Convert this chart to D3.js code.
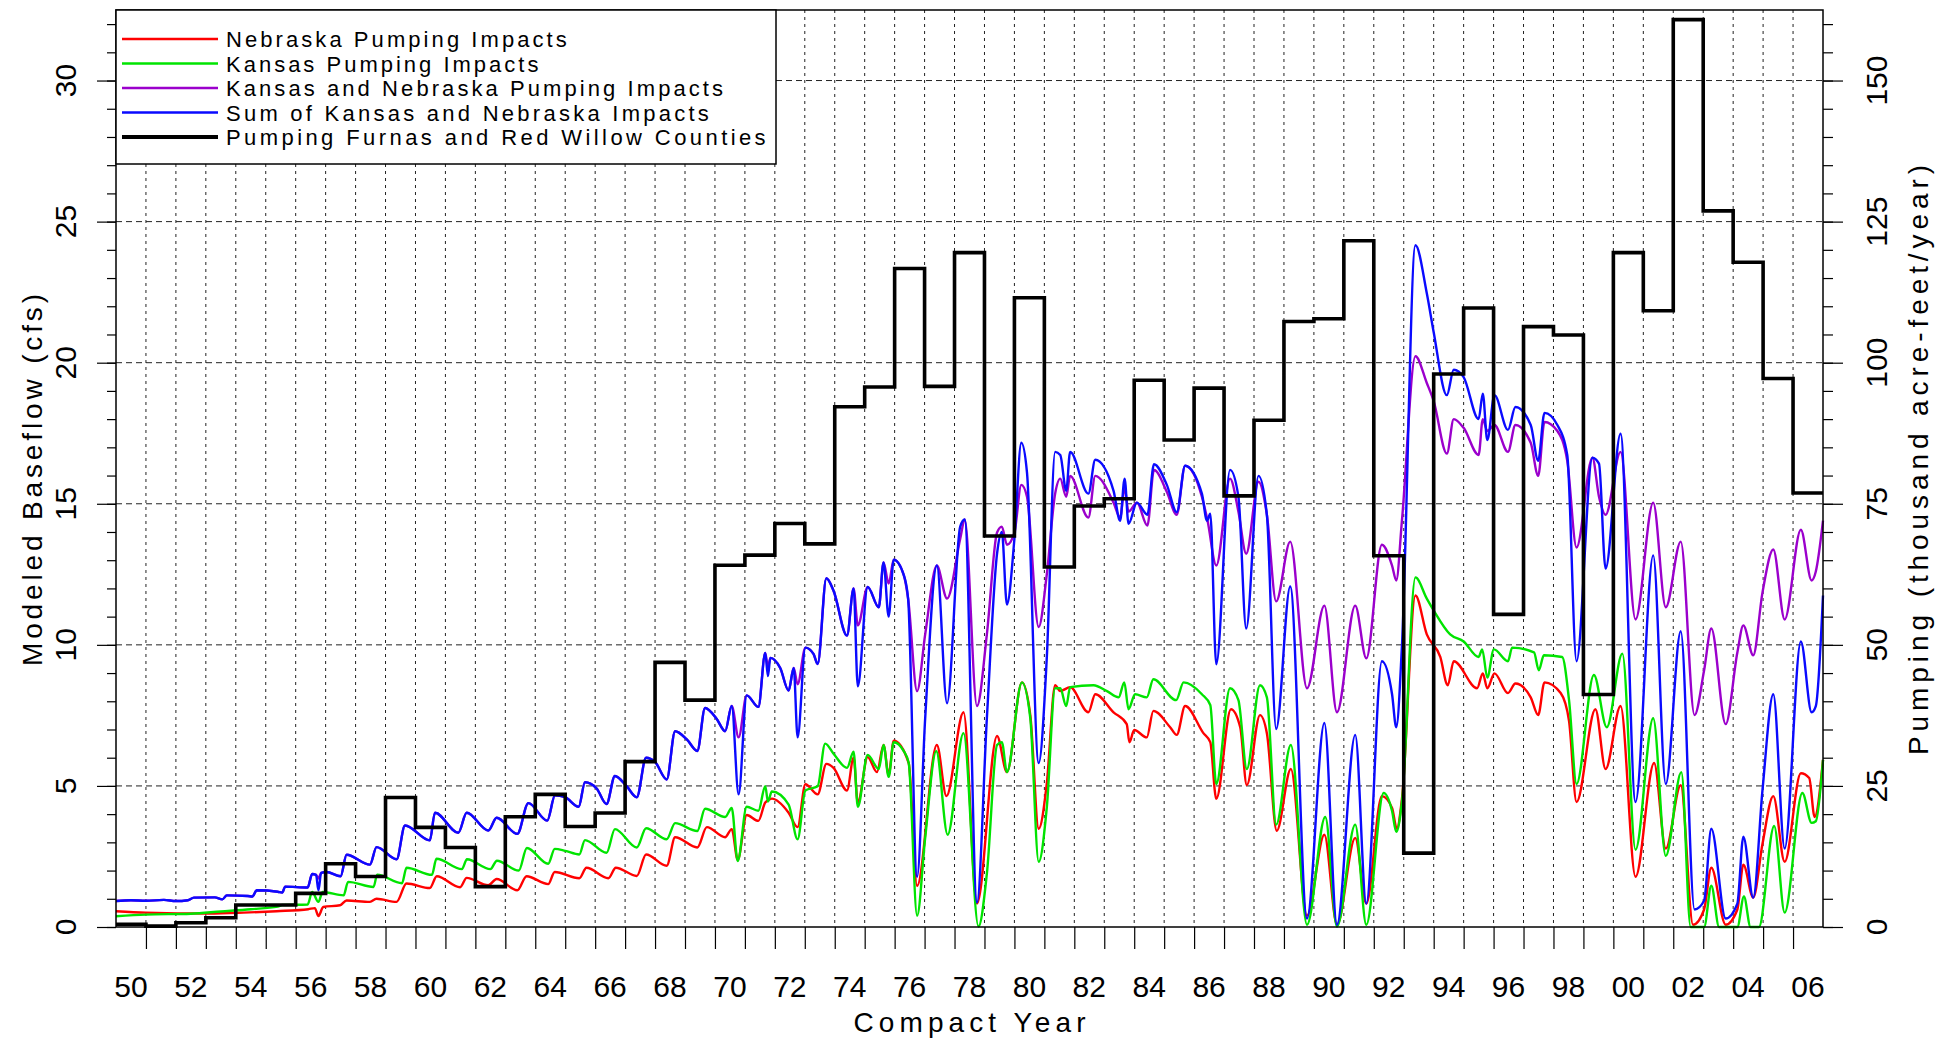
<!DOCTYPE html>
<html>
<head>
<meta charset="utf-8">
<script src="https://d3js.org/d3.v7.min.js"></script>
<style>
  body { margin: 0; background: #fff; }
  svg { display: block; font-family: "Liberation Sans", Arial, sans-serif; }
</style>
</head>
<body>
<div id="chart"></div>
<script>
// pumping Furnas + Red Willow, thousand acre-feet/year, one value per year from 1950
var pumpStart = 1950;
var pumpingKaf = [0.5, 0.15, 0.75, 1.65, 3.9, 3.9, 5.95, 11.2, 8.95, 22.95,
  17.65, 14.1, 7.15, 19.55, 23.5, 17.8, 20.2, 29.3, 46.9, 40.2,
  64.1, 65.9, 71.5, 67.9, 92.2, 95.7, 116.7, 95.8, 119.5, 69.3,
  111.5, 63.8, 74.6, 75.9, 96.9, 86.3, 95.5, 76.4, 89.8, 107.3,
  107.8, 121.6, 65.8, 13.1, 98.0, 109.7, 55.4, 106.4, 104.9, 41.2,
  119.5, 109.2, 160.8, 126.9, 117.8, 97.2, 76.9];

// modeled baseflow impacts (cfs), [year, value]
var nebraska = [[1950.0,0.56],[1951.0,0.51],[1953.1,0.48],[1954.25,0.51],[1955.36,0.56],[1956.42,0.63],[1956.64,0.67],[1956.76,0.39],[1956.92,0.71],
  [1957.48,0.77],[1957.7,0.94],[1958.48,0.89],[1958.7,1.0],[1959.37,0.89],[1959.7,1.54],[1960.48,1.38],[1960.71,1.8],[1961.49,1.41],[1961.71,1.74],
  [1962.43,1.48],[1962.71,1.7],[1963.4,1.3],[1963.71,1.8],[1964.43,1.52],[1964.65,1.95],[1965.47,1.73],[1965.71,2.1],[1966.44,1.73],[1966.69,2.1],
  [1967.39,1.81],[1967.7,2.57],[1968.39,2.17],[1968.67,3.18],[1969.41,2.82],[1969.73,3.54],[1970.34,3.18],[1970.56,3.47],[1970.76,2.38],[1971.06,3.97],
  [1971.45,3.76],[1971.68,4.41],[1971.9,4.55],[1972.46,4.05],[1972.76,3.54],[1973.02,5.06],[1973.43,4.7],[1973.72,5.78],[1973.96,5.64],[1974.41,4.84],
  [1974.63,6.0],[1974.77,4.41],[1975.1,6.02],[1975.41,5.49],[1975.63,6.45],[1975.8,5.39],[1975.97,6.6],[1976.47,5.81],[1976.75,1.46],[1977.41,6.45],
  [1977.73,4.64],[1978.3,7.61],[1978.75,0.83],[1979.42,6.77],[1979.75,5.49],[1980.25,8.67],[1980.53,7.51],[1980.81,3.48],[1981.08,5.07],[1981.36,8.57],
  [1981.53,8.36],[1981.86,8.5],[1982.47,7.61],[1982.7,8.25],[1983.31,7.61],[1983.75,7.19],[1983.84,6.55],[1984.0,6.98],[1984.42,6.72],[1984.64,7.66],
  [1985.2,7.08],[1985.42,6.81],[1985.7,7.83],[1986.31,6.87],[1986.54,6.55],[1986.74,4.54],[1987.23,7.72],[1987.54,7.08],[1987.76,5.03],[1988.2,7.51],
  [1988.43,6.87],[1988.76,3.41],[1989.23,5.6],[1989.77,0.4],[1990.35,3.27],[1990.77,0.08],[1991.38,3.16],[1991.75,0.83],[1992.27,4.64],[1992.61,4.22],
  [1992.77,3.48],[1992.94,4.54],[1993.39,11.75],[1993.77,10.37],[1994.22,9.57],[1994.47,8.57],[1994.67,9.42],[1995.45,8.46],[1995.64,8.99],[1995.79,8.46],
  [1996.03,8.99],[1996.48,8.29],[1996.73,8.63],[1997.24,8.14],[1997.49,7.51],[1997.7,8.67],[1998.24,8.29],[1998.52,7.3],[1998.77,4.43],[1999.4,7.72],
  [1999.74,5.6],[2000.24,7.83],[2000.74,1.78],[2001.36,5.81],[2001.75,2.78],[2002.25,5.03],[2002.66,0.08],[2003.03,0.62],[2003.27,2.1],[2003.75,0.08],
  [2004.14,0.62],[2004.34,2.21],[2004.67,1.04],[2004.98,2.95],[2005.34,4.64],[2005.72,2.31],[2006.26,5.45],[2006.54,5.28],[2006.72,3.9],[2007.0,5.92]];

var kansas = [[1950.0,0.38],[1951.0,0.44],[1952.5,0.47],[1953.5,0.55],[1954.5,0.63],[1955.4,0.72],[1955.55,0.78],[1956.4,0.8],[1956.55,1.24],[1956.76,0.89],
  [1956.9,1.24],[1957.6,1.12],[1957.75,1.6],[1958.6,1.42],[1958.72,1.85],[1959.55,1.55],[1959.7,2.1],[1960.55,1.85],[1960.7,2.42],[1961.55,2.05],
  [1961.72,2.4],[1962.5,2.05],[1962.72,2.35],[1963.45,2.0],[1963.72,2.8],[1964.43,2.24],[1964.65,2.77],[1965.0,2.7],[1965.47,2.57],[1965.66,3.08],
  [1966.38,2.63],[1966.66,3.47],[1967.39,2.82],[1967.7,3.5],[1968.39,3.11],[1968.67,3.68],[1969.41,3.4],[1969.67,4.19],[1970.34,3.9],[1970.56,4.22],
  [1970.76,2.34],[1971.06,4.26],[1971.45,4.12],[1971.68,4.99],[1971.77,4.45],[1971.9,4.8],[1972.46,4.34],[1972.76,3.11],[1973.02,4.84],[1973.43,4.99],
  [1973.68,6.5],[1973.96,6.14],[1974.41,5.64],[1974.63,6.21],[1974.77,4.26],[1975.1,6.1],[1975.47,5.6],[1975.63,6.45],[1975.8,5.32],[1975.97,6.55],
  [1976.3,6.24],[1976.47,5.81],[1976.75,0.4],[1977.02,3.16],[1977.39,6.24],[1977.77,3.27],[1978.3,6.87],[1978.8,0.02],[1979.08,1.89],[1979.42,6.45],
  [1979.58,6.55],[1979.75,5.49],[1980.25,8.67],[1980.53,7.4],[1980.81,2.31],[1981.08,4.22],[1981.36,8.46],[1981.53,8.46],[1981.73,7.83],[1981.86,8.5],
  [1982.64,8.57],[1983.09,8.36],[1983.48,8.14],[1983.67,8.67],[1983.81,7.72],[1984.03,8.25],[1984.42,8.14],[1984.64,8.78],[1985.4,8.04],[1985.65,8.67],
  [1986.26,8.25],[1986.54,7.87],[1986.74,5.07],[1987.2,8.46],[1987.48,8.04],[1987.76,5.6],[1988.2,8.57],[1988.43,8.14],[1988.74,3.63],[1989.23,6.45],
  [1989.77,0.08],[1990.38,3.9],[1990.77,0.02],[1991.38,3.63],[1991.75,0.08],[1992.33,4.75],[1992.61,4.11],[1992.75,3.37],[1992.94,4.43],[1993.39,12.39],
  [1993.77,11.64],[1994.0,11.22],[1994.55,10.37],[1995.0,10.12],[1995.5,9.57],[1995.62,9.84],[1995.79,8.84],[1996.01,9.84],[1996.48,9.42],[1996.62,9.9],
  [1997.35,9.73],[1997.51,9.1],[1997.68,9.63],[1998.29,9.57],[1998.52,8.04],[1998.77,5.07],[1999.35,8.93],[1999.78,7.08],[2000.3,9.69],[2000.74,2.74],
  [2001.33,7.4],[2001.75,2.52],[2002.27,5.49],[2002.58,0.0],[2003.03,0.0],[2003.27,1.46],[2003.53,0.0],[2004.14,0.0],[2004.36,1.08],[2004.58,0.0],
  [2004.86,0.0],[2005.37,3.58],[2005.72,0.51],[2006.31,4.75],[2006.62,3.69],[2006.76,3.75],[2007.0,5.92]];

var kansasNebraska = [[1950.0,0.92],[1950.5,0.95],[1951.0,0.93],[1951.6,0.96],[1952.0,0.92],[1952.4,0.95],[1952.6,1.04],[1953.3,1.05],[1953.55,0.98],[1953.7,1.12],
  [1954.4,1.1],[1954.55,1.08],[1954.7,1.3],[1955.4,1.25],[1955.55,1.22],[1955.65,1.43],[1956.4,1.4],[1956.55,1.88],[1956.68,1.85],[1956.76,1.72],
  [1956.85,1.92],[1957.03,1.95],[1957.5,1.8],[1957.7,2.56],[1958.48,2.21],[1958.7,2.83],[1959.37,2.4],[1959.65,3.6],[1960.48,3.07],[1960.65,4.05],
  [1961.43,3.34],[1961.71,4.05],[1962.43,3.42],[1962.71,3.87],[1963.4,3.3],[1963.77,4.39],[1964.4,3.77],[1964.66,4.67],[1965.0,4.6],[1965.45,4.26],
  [1965.66,5.13],[1966.05,4.91],[1966.38,4.36],[1966.66,5.35],[1967.05,4.99],[1967.39,4.6],[1967.7,6.0],[1968.0,5.85],[1968.39,5.23],[1968.67,6.94],
  [1969.06,6.65],[1969.41,6.24],[1969.67,7.76],[1970.06,7.37],[1970.34,6.94],[1970.56,7.83],[1970.79,6.72],[1971.06,8.21],[1971.45,7.8],[1971.68,9.71],
  [1971.77,9.2],[1971.85,9.54],[1972.18,9.18],[1972.46,8.38],[1972.63,9.18],[1972.76,8.6],[1973.02,9.9],[1973.29,9.68],[1973.43,9.32],[1973.72,12.36],
  [1973.96,11.92],[1974.41,10.33],[1974.63,12.0],[1974.77,10.69],[1975.1,12.05],[1975.47,11.33],[1975.63,12.92],[1975.8,12.17],[1975.97,13.02],[1976.3,12.49],
  [1976.45,11.64],[1976.75,8.36],[1977.02,10.37],[1977.41,12.81],[1977.75,11.64],[1978.19,13.76],[1978.34,14.44],[1978.75,7.83],[1979.08,10.37],[1979.42,13.98],
  [1979.58,14.19],[1979.75,13.55],[1980.0,13.98],[1980.23,15.67],[1980.42,15.25],[1980.81,10.63],[1981.08,12.49],[1981.36,15.36],[1981.53,15.89],[1981.73,15.25],
  [1981.86,15.99],[1982.47,14.51],[1982.7,15.99],[1983.31,15.04],[1983.53,14.51],[1983.68,15.57],[1983.81,14.72],[1984.09,15.04],[1984.44,14.23],[1984.66,16.2],
  [1985.09,15.42],[1985.42,14.61],[1985.7,16.35],[1986.26,15.25],[1986.45,14.4],[1986.74,12.81],[1987.2,15.89],[1987.48,14.72],[1987.74,13.23],[1988.15,15.78],
  [1988.43,14.61],[1988.74,11.54],[1989.21,13.66],[1989.77,8.46],[1990.35,11.39],[1990.77,7.61],[1991.38,11.39],[1991.75,9.52],[1992.27,13.55],[1992.61,12.81],
  [1992.75,12.28],[1992.94,14.4],[1993.39,20.23],[1993.77,19.28],[1994.0,18.64],[1994.44,16.78],[1994.67,18.0],[1995.0,17.69],[1995.5,16.73],[1995.64,18.0],
  [1995.79,17.58],[1996.03,17.79],[1996.48,16.84],[1996.73,17.79],[1997.24,17.16],[1997.49,15.99],[1997.7,17.9],[1998.13,17.58],[1998.46,16.52],[1998.77,13.45],
  [1999.3,16.63],[1999.52,15.25],[1999.74,14.61],[2000.24,16.84],[2000.74,10.9],[2001.33,15.04],[2001.75,11.33],[2002.25,13.66],[2002.71,7.51],[2003.03,9.1],
  [2003.27,10.58],[2003.75,7.19],[2004.14,9.73],[2004.34,10.69],[2004.67,9.63],[2004.98,11.86],[2005.34,13.38],[2005.72,10.9],[2006.26,14.08],[2006.62,12.28],
  [2006.76,12.6],[2007.0,14.4]];

var sumKN = [[1950.0,0.92],[1950.5,0.95],[1951.0,0.93],[1951.6,0.96],[1952.0,0.92],[1952.4,0.95],[1952.6,1.04],[1953.3,1.05],[1953.55,0.98],[1953.7,1.12],
  [1954.4,1.1],[1954.55,1.08],[1954.7,1.3],[1955.4,1.25],[1955.55,1.22],[1955.65,1.43],[1956.4,1.4],[1956.55,1.88],[1956.68,1.85],[1956.76,1.3],
  [1956.85,1.92],[1957.03,1.95],[1957.5,1.8],[1957.7,2.56],[1958.48,2.21],[1958.7,2.83],[1959.37,2.4],[1959.65,3.6],[1960.48,3.07],[1960.65,4.05],
  [1961.43,3.34],[1961.71,4.05],[1962.43,3.42],[1962.71,3.87],[1963.4,3.3],[1963.77,4.39],[1964.4,3.77],[1964.66,4.67],[1965.0,4.6],[1965.45,4.26],
  [1965.66,5.13],[1966.05,4.91],[1966.38,4.36],[1966.66,5.35],[1967.05,4.99],[1967.39,4.6],[1967.7,6.0],[1968.0,5.85],[1968.39,5.23],[1968.67,6.94],
  [1969.06,6.65],[1969.41,6.24],[1969.67,7.76],[1970.06,7.37],[1970.34,6.94],[1970.56,7.83],[1970.79,4.7],[1971.06,8.21],[1971.45,7.8],[1971.68,9.71],
  [1971.77,8.89],[1971.85,9.54],[1972.18,9.18],[1972.46,8.38],[1972.63,9.18],[1972.76,6.72],[1973.02,9.9],[1973.29,9.68],[1973.43,9.32],[1973.72,12.36],
  [1973.96,11.92],[1974.41,10.33],[1974.63,12.0],[1974.77,8.53],[1975.1,12.05],[1975.47,11.33],[1975.63,12.92],[1975.8,11.0],[1975.97,13.02],[1976.3,12.49],
  [1976.45,11.64],[1976.75,1.78],[1977.02,7.4],[1977.41,12.81],[1977.75,7.93],[1978.19,14.19],[1978.34,14.44],[1978.75,0.87],[1979.08,7.4],[1979.42,13.23],
  [1979.58,14.0],[1979.75,11.43],[1980.0,13.76],[1980.23,17.16],[1980.42,16.1],[1980.81,5.81],[1981.08,9.52],[1981.36,16.84],[1981.53,16.73],[1981.73,15.46],
  [1981.86,16.84],[1982.47,15.36],[1982.7,16.56],[1983.31,15.46],[1983.53,14.4],[1983.68,15.89],[1983.81,14.29],[1984.09,15.04],[1984.44,14.61],[1984.66,16.4],
  [1985.09,15.67],[1985.42,14.7],[1985.7,16.35],[1986.26,15.36],[1986.43,14.4],[1986.54,14.65],[1986.74,9.31],[1987.2,16.2],[1987.48,15.25],[1987.74,10.58],
  [1988.15,15.99],[1988.43,14.61],[1988.74,7.02],[1989.21,12.07],[1989.77,0.3],[1990.35,7.23],[1990.77,0.08],[1991.38,6.81],[1991.75,0.83],[1992.27,9.42],
  [1992.61,8.25],[1992.75,7.08],[1992.94,9.95],[1993.39,24.16],[1993.77,22.46],[1994.0,21.08],[1994.44,18.85],[1994.67,19.75],[1995.0,19.49],[1995.5,18.0],
  [1995.64,18.9],[1995.79,17.26],[1996.03,18.85],[1996.48,17.62],[1996.73,18.43],[1997.24,17.79],[1997.49,16.52],[1997.7,18.22],[1998.13,17.79],[1998.46,16.73],
  [1998.77,9.42],[1999.3,16.63],[1999.52,16.42],[1999.74,12.7],[2000.24,17.48],[2000.74,4.43],[2001.33,13.17],[2001.75,5.07],[2002.25,10.48],[2002.71,0.62],
  [2003.03,0.93],[2003.27,3.48],[2003.75,0.3],[2004.14,0.83],[2004.34,3.2],[2004.67,1.04],[2004.98,4.86],[2005.34,8.25],[2005.72,2.78],[2006.26,10.12],
  [2006.62,7.61],[2006.76,7.83],[2007.0,11.75]];

var legendNames = ["Nebraska Pumping Impacts", "Kansas Pumping Impacts", "Kansas and Nebraska Pumping Impacts",
  "Sum of Kansas and Nebraska Impacts", "Pumping Furnas and Red Willow Counties"];
var leftTicks = [0, 5, 10, 15, 20, 25, 30];
var rightTicks = [0, 25, 50, 75, 100, 125, 150];

var width = 1937, height = 1041;
var plotL = 116, plotR = 1823, plotT = 10, plotB = 927;

var svg = d3.select("#chart").append("svg")
  .attr("width", width)
  .attr("height", height);

var x = d3.scaleLinear().domain([1950, 2007]).range([plotL, plotR]);
var y = d3.scaleLinear().domain([0, 32.5]).range([plotB, plotT]);
var yR = d3.scaleLinear().domain([0, 162.5]).range([plotB, plotT]);

var yearBounds = d3.range(1951, 2007);

// grid
svg.append("g").selectAll("line")
  .data(yearBounds).enter().append("line")
  .attr("x1", function(d) { return x(d); })
  .attr("x2", function(d) { return x(d); })
  .attr("y1", plotT).attr("y2", plotB)
  .attr("stroke", "#222").attr("stroke-width", 1)
  .attr("stroke-dasharray", "3,4");

svg.append("g").selectAll("line")
  .data(leftTicks.slice(1)).enter().append("line")
  .attr("x1", plotL).attr("x2", plotR)
  .attr("y1", function(d) { return y(d); })
  .attr("y2", function(d) { return y(d); })
  .attr("stroke", "#222").attr("stroke-width", 1)
  .attr("stroke-dasharray", "6,4");

// axes
var minorL = d3.range(0, 33);
svg.append("g")
  .attr("transform", "translate(" + plotL + ",0)")
  .call(d3.axisLeft(y).tickValues(minorL).tickSize(9).tickFormat("").tickSizeOuter(0))
  .call(function(g) { g.select(".domain").remove(); });
svg.append("g")
  .attr("transform", "translate(" + plotL + ",0)")
  .call(d3.axisLeft(y).tickValues(leftTicks).tickSize(19).tickFormat("").tickSizeOuter(0))
  .call(function(g) { g.select(".domain").remove(); });

var minorR = d3.range(0, 165, 5);
svg.append("g")
  .attr("transform", "translate(" + plotR + ",0)")
  .call(d3.axisRight(yR).tickValues(minorR).tickSize(10).tickFormat("").tickSizeOuter(0))
  .call(function(g) { g.select(".domain").remove(); });
svg.append("g")
  .attr("transform", "translate(" + plotR + ",0)")
  .call(d3.axisRight(yR).tickValues(rightTicks).tickSize(20).tickFormat("").tickSizeOuter(0))
  .call(function(g) { g.select(".domain").remove(); });

svg.append("g")
  .attr("transform", "translate(0," + plotB + ")")
  .call(d3.axisBottom(x).tickValues(yearBounds).tickSize(22).tickFormat("").tickSizeOuter(0))
  .call(function(g) { g.select(".domain").remove(); });

svg.selectAll(".tick line").attr("stroke", "#000").attr("stroke-width", 1.2);

// tick labels
svg.append("g").selectAll("text")
  .data(leftTicks).enter().append("text")
  .attr("transform", function(d) { return "translate(76," + y(d) + ") rotate(-90)"; })
  .attr("text-anchor", "middle")
  .style("font-size", "30px")
  .text(function(d) { return d; });

svg.append("g").selectAll("text")
  .data(rightTicks).enter().append("text")
  .attr("transform", function(d) { return "translate(1887," + yR(d) + ") rotate(-90)"; })
  .attr("text-anchor", "middle")
  .style("font-size", "30px")
  .text(function(d) { return d; });

var labelYears = d3.range(1950, 2007, 2);
svg.append("g").selectAll("text")
  .data(labelYears).enter().append("text")
  .attr("x", function(d) { return x(d + 0.5); })
  .attr("y", 997)
  .attr("text-anchor", "middle")
  .style("font-size", "30px")
  .text(function(d) { return d3.format("02d")(d % 100); });

// axis titles
svg.append("text")
  .attr("x", (plotL + plotR) / 2).attr("y", 1032)
  .attr("text-anchor", "middle")
  .attr("textLength", 232).attr("lengthAdjust", "spacing")
  .style("font-size", "28px")
  .text("Compact Year");

svg.append("text")
  .attr("transform", "translate(42,480) rotate(-90)")
  .attr("text-anchor", "middle")
  .attr("textLength", 372).attr("lengthAdjust", "spacing")
  .style("font-size", "28px")
  .text("Modeled Baseflow (cfs)");

svg.append("text")
  .attr("transform", "translate(1928,460) rotate(-90)")
  .attr("text-anchor", "middle")
  .attr("textLength", 590).attr("lengthAdjust", "spacing")
  .style("font-size", "28px")
  .text("Pumping (thousand acre-feet/year)");

// data lines, drawn in legend order
var line = d3.line()
  .x(function(d) { return x(d[0]); })
  .y(function(d) { return y(d[1]); })
  .curve(d3.curveMonotoneX);

var series = [
  { data: nebraska, color: "#ff0000" },
  { data: kansas, color: "#00e400" },
  { data: kansasNebraska, color: "#9b00cc" },
  { data: sumKN, color: "#0a0aff" }
];

svg.append("g").selectAll("path")
  .data(series).enter().append("path")
  .attr("d", function(d) { return line(d.data); })
  .attr("fill", "none")
  .attr("stroke", function(d) { return d.color; })
  .attr("stroke-width", 2.4)
  .attr("stroke-linejoin", "round");

var pumpPts = pumpingKaf.map(function(v, i) { return [pumpStart + i, v]; });
pumpPts.push([2007, pumpingKaf[pumpingKaf.length - 1]]);

var stepLine = d3.line()
  .x(function(d) { return x(d[0]); })
  .y(function(d) { return yR(d[1]); })
  .curve(d3.curveStepAfter);

svg.append("path")
  .attr("d", stepLine(pumpPts))
  .attr("fill", "none")
  .attr("stroke", "#000")
  .attr("stroke-width", 3.6);

// frame
svg.append("rect")
  .attr("x", plotL).attr("y", plotT)
  .attr("width", plotR - plotL).attr("height", plotB - plotT)
  .attr("fill", "none").attr("stroke", "#000").attr("stroke-width", 1.5);

// legend
var legendColors = ["#ff0000", "#00e400", "#9b00cc", "#0a0aff", "#000"];
var lg = svg.append("g");
lg.append("rect")
  .attr("x", plotL).attr("y", plotT)
  .attr("width", 660).attr("height", 154)
  .attr("fill", "#fff").attr("stroke", "#000").attr("stroke-width", 1.5);

var rows = lg.selectAll(".row")
  .data(legendNames).enter().append("g")
  .attr("transform", function(d, i) { return "translate(0," + (39 + i * 24.5) + ")"; });

rows.append("line")
  .attr("x1", 122).attr("x2", 218)
  .attr("stroke", function(d, i) { return legendColors[i]; })
  .attr("stroke-width", function(d, i) { return i == 4 ? 4 : 2.6; });

rows.append("text")
  .attr("x", 226).attr("y", 8)
  .attr("textLength", function(d) { return d.length * 14.2; })
  .attr("lengthAdjust", "spacing")
  .style("font-size", "22px")
  .text(function(d) { return d; });
</script>
</body>
</html>
